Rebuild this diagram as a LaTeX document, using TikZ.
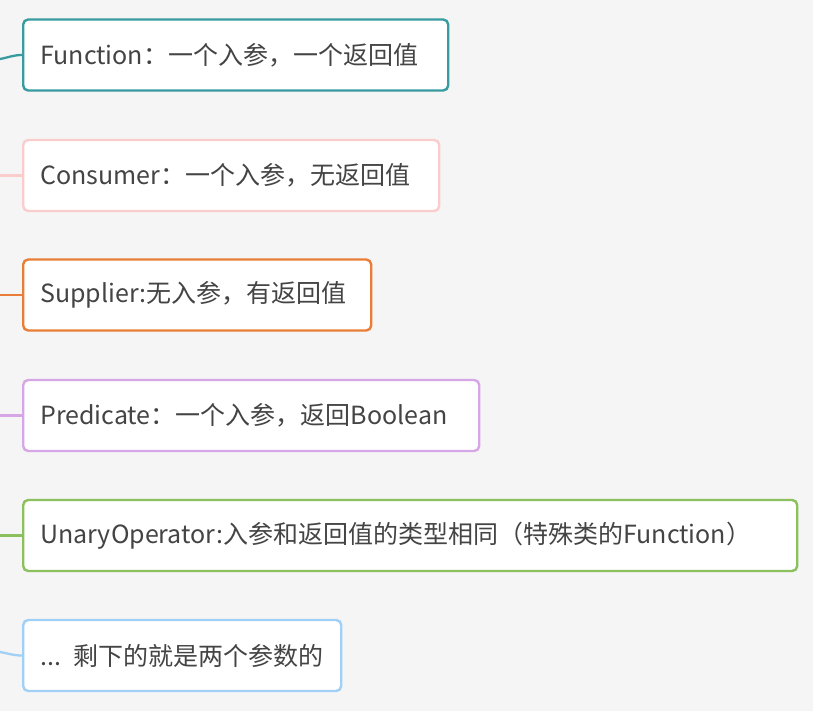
\documentclass[tikz,border=0pt]{standalone}
\usepackage{fontspec}
\setmainfont{Noto Sans CJK SC}
\usetikzlibrary{positioning}
\definecolor{bgcol}{RGB}{245,245,245}
\definecolor{txtcol}{RGB}{68,68,68}
\definecolor{fncol}{RGB}{55,155,160}
\definecolor{cscol}{RGB}{250,204,204}
\definecolor{spcol}{RGB}{232,126,56}
\definecolor{prcol}{RGB}{214,166,230}
\definecolor{opcol}{RGB}{140,192,92}
\definecolor{etcol}{RGB}{160,208,245}
\tikzset{
  leaf/.style={draw, fill=white, line width=2.4pt, rounded corners=5pt,
    anchor=west, minimum height=71pt, inner xsep=17pt,
    text width=#1, align=left,
    text=txtcol, font=\fontsize{25}{30}\selectfont},
  twig/.style={line width=2.3pt}
}

\begin{document}
\begin{tikzpicture}[x=1pt,y=-1pt]
  \fill[bgcol] (0,0) rectangle (813,711);
  \useasboundingbox (0,0) rectangle (813,711);
  % the six interfaces
  \node[leaf=391pt, draw=fncol] (fn) at (22,55) {Function：一个入参，一个返回值};
  \node[leaf=382pt, draw=cscol] (cs) at (22,175.5) {Consumer：一个入参，无返回值};
  \node[leaf=314pt, draw=spcol] (sp) at (22,295) {Supplier:无入参，有返回值};
  \node[leaf=422pt, draw=prcol] (pr) at (22,415.5) {Predicate：一个入参，返回Boolean};
  \node[leaf=740pt, draw=opcol] (op) at (22,535.5) {UnaryOperator:入参和返回值的类型相同（特殊类的Function）};
  \node[leaf=284pt, draw=etcol] (et) at (22,655.5) {\mbox{... 剩下的就是两个参数的}};
  % branch ends at the left edge
  \coordinate (fn0) at (0,59);
  \coordinate (cs0) at (0,175.5);
  \coordinate (sp0) at (0,295);
  \coordinate (pr0) at (0,415.5);
  \coordinate (op0) at (0,535.5);
  \coordinate (et0) at (0,652);
  \draw[twig, fncol] (fn0) to[out=10,in=180] (fn.west);
  \draw[twig, cscol] (cs0) -- (cs.west);
  \draw[twig, spcol] (sp0) -- (sp.west);
  \draw[twig, prcol] (pr0) -- (pr.west);
  \draw[twig, opcol] (op0) -- (op.west);
  \draw[twig, etcol] (et0) to[out=-10,in=180] (et.west);
\end{tikzpicture}
\end{document}
